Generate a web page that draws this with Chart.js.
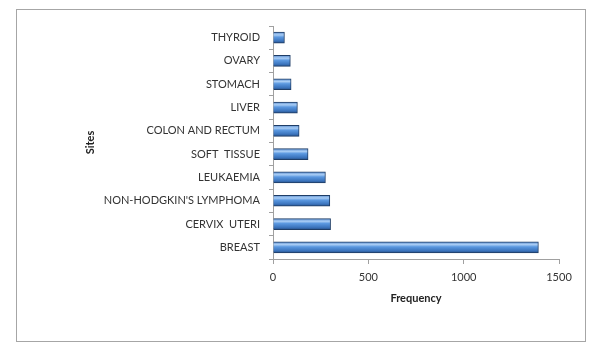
<!DOCTYPE html>
<html>
<head>
<meta charset="utf-8">
<script src="https://cdn.jsdelivr.net/npm/chart.js@4.4.1/dist/chart.umd.min.js"></script>
<style>
  body { margin: 0; background: #fff; }
  #wrap { position: relative; width: 595px; height: 351px; }
  #frame { position: absolute; left: 16px; top: 9px; width: 568px; height: 331px; border: 1px solid #a6a6a6; pointer-events: none; }
</style>
</head>
<body>
<div id="wrap">
  <canvas id="sitechart" width="595" height="351"></canvas>
  <div id="frame"></div>
</div>
<script>
// sites, top to bottom as they appear
const sites = ["THYROID", "OVARY", "STOMACH", "LIVER", "COLON AND RECTUM", "SOFT  TISSUE",
  "LEUKAEMIA", "NON-HODGKIN'S LYMPHOMA", "CERVIX  UTERI", "BREAST"];
const frequency = [60, 91, 95, 128, 137, 184, 275, 298, 302, 1392];
const freqTicks = [0, 500, 1000, 1500];

const chart = document.getElementById("sitechart");
const barH = 11;

// blue bar with a light band near the top, like the excel bevel look
function barFill(ctx) {
  const c = ctx.chart;
  const yScale = c.scales.y;
  if (!yScale || ctx.dataIndex === undefined) return "#4f81bd";
  const yc = yScale.getPixelForValue(ctx.dataIndex);
  if (!isFinite(yc)) return "#4f81bd";
  const g = c.ctx.createLinearGradient(0, yc - barH / 2, 0, yc + barH / 2);
  g.addColorStop(0, "#5d8fd0");
  g.addColorStop(0.25, "#a9cdf5");
  g.addColorStop(0.45, "#5b98e0");
  g.addColorStop(0.8, "#3b74bd");
  g.addColorStop(1, "#27518a");
  return g;
}

new Chart(chart, {
  type: "bar",
  data: {
    labels: sites,
    datasets: [{
      data: frequency,
      backgroundColor: barFill,
      borderColor: "#1f3d66",
      borderWidth: 1,
      borderSkipped: "left",
      barThickness: barH
    }]
  },
  options: {
    indexAxis: "y",
    responsive: false,
    animation: false,
    layout: { padding: { left: 80, right: 36, top: 26, bottom: 46 } },
    plugins: { legend: { display: false }, tooltip: { enabled: false } },
    scales: {
      x: {
        min: 0,
        max: 1500,
        afterBuildTicks: (s) => { s.ticks = freqTicks.map((v) => ({ value: v })); },
        afterFit: (s) => { s.height = 46; },
        border: { color: "#a0a0a0" },
        grid: { drawOnChartArea: false, drawTicks: true, tickLength: 5, color: "#a0a0a0" },
        ticks: {
          color: "#333333",
          padding: 7,
          font: { family: "Lato", size: 11 },
          callback: (v) => String(v)
        },
        title: {
          display: true,
          text: "Frequency",
          color: "#222222",
          padding: { top: 0, bottom: 0 },
          font: { family: "Lato", size: 11, weight: "bold" }
        }
      },
      y: {
        afterFit: (s) => { s.width = 273 - 80; },
        border: { color: "#a0a0a0" },
        grid: { offset: true, drawOnChartArea: false, drawTicks: true, tickLength: 4, color: "#a0a0a0" },
        ticks: { color: "#333333", padding: 9, font: { family: "Lato", size: 11 } },
        title: {
          display: true,
          text: "Sites",
          color: "#222222",
          padding: { top: 4, bottom: 0 },
          font: { family: "Lato", size: 11, weight: "bold" }
        }
      }
    }
  }
});
</script>
</body>
</html>
